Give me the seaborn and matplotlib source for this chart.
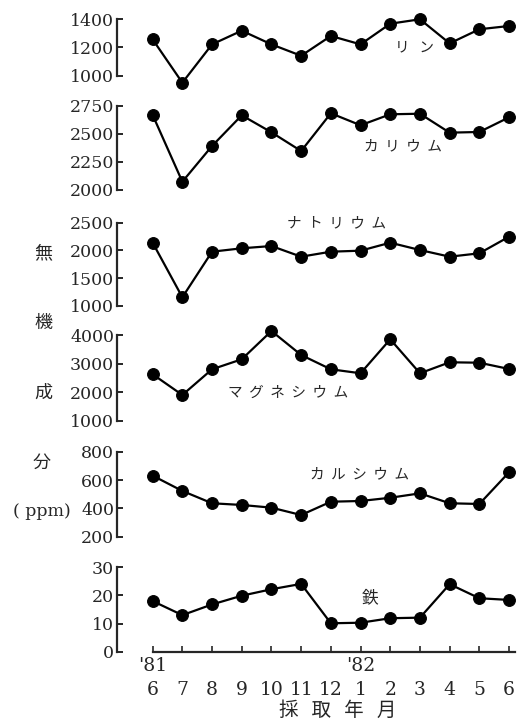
import matplotlib
matplotlib.use("Agg")
import matplotlib.pyplot as plt
import seaborn as sns
import pandas as pd

# sampling months, Jun '81 .. Jun '82
months = ["6", "7", "8", "9", "10", "11", "12", "1", "2", "3", "4", "5", "6"]

phosphorus = [1257, 953, 1222, 1318, 1222, 1142, 1281, 1222, 1367, 1398, 1229, 1328, 1351]
potassium = [2670, 2074, 2393, 2667, 2515, 2348, 2685, 2578, 2676, 2681, 2512, 2518, 2649]
sodium = [2140, 1157, 1978, 2039, 2080, 1888, 1978, 1996, 2140, 2008, 1888, 1949, 2248]
magnesium = [2625, 1900, 2800, 3150, 4140, 3300, 2800, 2660, 3850, 2660, 3045, 3030, 2810]
calcium = [631, 523, 436, 424, 405, 353, 447, 452, 475, 506, 436, 431, 655]
iron = [18.0, 13.0, 16.8, 19.9, 22.2, 24.1, 10.1, 10.3, 11.9, 12.1, 24.0, 19.0, 18.4]

names = ["リ   ン", "カ  リ  ウ  ム", "ナ  ト  リ  ウ  ム", "マ  グ  ネ  シ  ウ  ム", "カ  ル  シ  ウ  ム", "鉄"]
yticks = [
    [1000, 1200, 1400],
    [2000, 2250, 2500, 2750],
    [1000, 1500, 2000, 2500],
    [1000, 2000, 3000, 4000],
    [200, 400, 600, 800],
    [0, 10, 20, 30],
]
series = [phosphorus, potassium, sodium, magnesium, calcium, iron]

sns.set_style("white")
plt.rcParams["font.family"] = ["Noto Sans CJK JP", "DejaVu Sans"]

W, H = 517, 722
fig = plt.figure(figsize=(W / 100, H / 100), dpi=100)

# panel extents in pixels (top tick, bottom tick)
extents = [(19, 76), (106, 190), (222.7, 306), (335, 420.7), (451.7, 536.7), (567.3, 651.7)]
# name label positions (x index, y value)
name_pos = [(8.83, 1198), (8.43, 2393), (6.2, 2495), (4.55, 1990), (6.98, 642), (7.31, 19.2)]

x_left, x_right = 117, 515
idx = list(range(len(months)))
axes = []
for i, (top, bot) in enumerate(extents):
    ax = fig.add_axes([x_left / W, 1 - bot / H, (x_right - x_left) / W, (bot - top) / H])
    df = pd.DataFrame({"x": idx, "y": series[i]})
    sns.lineplot(data=df, x="x", y="y", ax=ax, color="black", linewidth=1.6,
                 marker="o", markersize=8.5, markeredgecolor="black", clip_on=False)
    ax.set_xlim(-1.2, 12.2)
    ax.set_ylim(yticks[i][0], yticks[i][-1])
    ax.set_yticks(yticks[i])
    ax.set_yticklabels([str(v) for v in yticks[i]], family="DejaVu Serif", fontsize=12.5)
    ax.tick_params(axis="y", left=True, direction="in", length=4, width=1.4, pad=2)
    ax.set_xlabel("")
    ax.set_ylabel("")
    for s in ["top", "right"]:
        ax.spines[s].set_visible(False)
    ax.spines["left"].set_linewidth(1.6)
    if i < 5:
        ax.spines["bottom"].set_visible(False)
        ax.set_xticks([])
    nx, ny = name_pos[i]
    ax.text(nx, ny, names[i], ha="center", va="center", fontsize=10.5 if i < 5 else 12)
    axes.append(ax)

ax = axes[-1]
ax.spines["bottom"].set_linewidth(1.6)
ax.spines["bottom"].set_bounds(0, 12.2)
ax.set_xticks(idx)
ax.set_xticklabels(months, family="DejaVu Serif", fontsize=13.5)
ax.tick_params(axis="x", bottom=True, direction="in", length=4, width=1.2, pad=21)
for xi, yr in [(0, "'81"), (7, "'82")]:
    ax.annotate(yr, xy=(xi, 0), xycoords=("data", "axes fraction"),
                xytext=(0, -10), textcoords="offset points",
                ha="center", va="center", family="DejaVu Serif", fontsize=13.5)

fig.text(338 / W, 1 - 710 / H, "採   取   年   月", ha="center", va="center", fontsize=14)

for ch, (px, py) in zip(["無", "機", "成", "分"], [(43, 253), (43, 323), (43, 393), (42, 463)]):
    fig.text(px / W, 1 - py / H, ch, ha="center", va="center", fontsize=13)
fig.text(42 / W, 1 - 512 / H, "( ppm)", ha="center", va="center",
         family="DejaVu Serif", fontsize=12.5)

fig.savefig("out.png", dpi=100)
